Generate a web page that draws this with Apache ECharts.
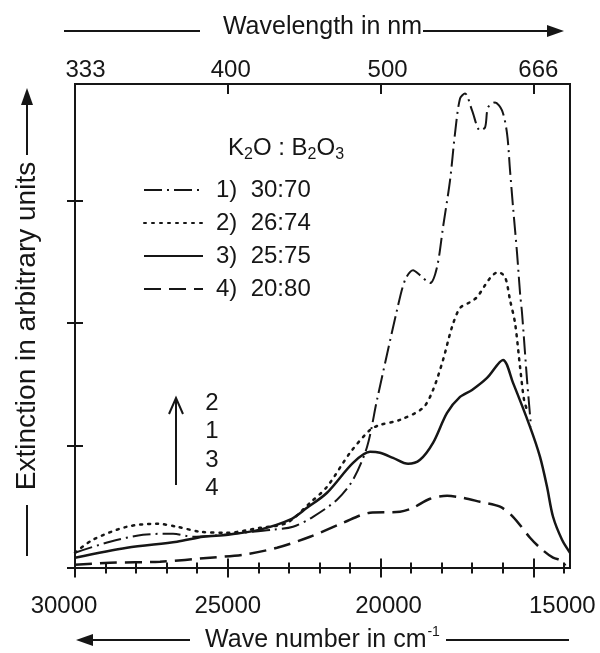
<!DOCTYPE html>
<html><head><meta charset="utf-8">
<script src="https://cdn.jsdelivr.net/npm/echarts@6/dist/echarts.min.js"></script>
<style>html,body{margin:0;padding:0;background:#fff}#c{width:600px;height:653px}</style>
</head><body><div id="c"></div>
<script>
// ---- data ----
const seriesNames = ['1)  30:70', '2)  26:74', '3)  25:75', '4)  20:80'];
const wave1 = [30000,28855,27774,26792,26138,25483,24501,23519,22865,22210,21425,20901,20443,20116,19461,19199,18937,18708,18381,18152,17955,17726,17563,17399,17236,17006,16744,16580,16482,16253,16025,15861,15763,15664,15533,15435,15370,15206,15075];
const ext1  = [0.125,0.214,0.271,0.280,0.255,0.263,0.288,0.313,0.337,0.418,0.557,0.720,0.988,1.372,2.105,2.350,2.431,2.390,2.325,2.456,2.782,3.164,3.547,3.832,3.873,3.735,3.571,3.596,3.759,3.800,3.735,3.547,3.246,2.945,2.570,2.244,2.081,1.535,1.152];
const wave2 = [30000,29411,28298,27316,26661,25909,25025,23945,23061,22308,21752,20999,20345,20017,19363,18610,18283,17955,17661,17399,17072,16842,16417,16155,15926,15763,15599,15435,15304,15206];
const ext2  = [0.125,0.231,0.337,0.361,0.337,0.296,0.288,0.328,0.369,0.532,0.663,0.940,1.127,1.168,1.209,1.307,1.453,1.698,1.967,2.122,2.170,2.211,2.366,2.415,2.374,2.187,2.000,1.641,1.372,1.290];
const wave3 = [30000,28298,26661,25810,24992,23945,22963,22407,21752,20901,20345,20017,19592,19101,18708,18283,17824,17399,17006,16515,15992,15664,15108,14781,14552,14355,14061,13800];
const ext3  = [0.084,0.165,0.214,0.255,0.271,0.313,0.394,0.491,0.614,0.858,0.948,0.940,0.899,0.850,0.883,1.021,1.266,1.396,1.453,1.551,1.698,1.511,1.152,0.907,0.663,0.418,0.231,0.125];
const wave4 = [30000,28855,27218,25581,24501,23389,22308,21228,20345,19363,18937,18381,17824,17301,16744,16090,15664,15108,14781,14355,14028,13960];
const ext4  = [0.027,0.043,0.051,0.084,0.108,0.165,0.255,0.369,0.451,0.459,0.491,0.565,0.589,0.573,0.540,0.500,0.418,0.247,0.165,0.084,0.059,0.020];
const bottomTickValues = [30000, 25000, 20000, 15000];
const topTickLabels = ['333', '400', '500', '666'];
const minorTickValues = [29000,28000,27000,26000,24000,23000,22000,21000,19000,18000,17000,16000,14000];
const majorTickValues = [30000, 25000, 20000, 15000];
const yTickValues = [0, 1, 2, 3];
const orderLabels = ['2', '1', '3', '4'];
const xMin = 13800, xMax = 30000, yMin = 0, yMax = 3.95;

// ---- styling ----
const INK = '#161616';
const FONT = '"Liberation Sans", Arial, sans-serif';
const bottomPad = [[0,22,0,0],[0,0,0,0],[0,0,0,16],[0,0,0,58]];
const topPad = [[0,0,0,21],[0,0,0,6],[0,0,0,14],[0,0,0,10]];

function zip(a, b) { return a.map((v, i) => [v, b[i]]); }

const chart = echarts.init(document.getElementById('c'), null, {renderer: 'canvas'});

function baseX(extra) {
  return Object.assign({
    type: 'value', min: xMin, max: xMax, inverse: true, gridIndex: 0,
    splitLine: {show: false}, axisLine: {show: false, onZero: false},
    axisLabel: {show: false}, axisTick: {show: false}
  }, extra);
}
function baseY(extra) {
  return Object.assign({
    type: 'value', min: yMin, max: yMax, gridIndex: 0,
    splitLine: {show: false}, axisLine: {show: false, onZero: false},
    axisLabel: {show: false}, axisTick: {show: false}
  }, extra);
}
const tickLine = {color: INK, width: 2};

const bRich = {}; bottomPad.forEach((p, i) => bRich['b' + i] = {fontSize: 24, fontFamily: FONT, color: INK, padding: p});
const tRich = {}; topPad.forEach((p, i) => tRich['t' + i] = {fontSize: 24, fontFamily: FONT, color: INK, padding: p});

const option = {
  backgroundColor: '#fff',
  animation: false,
  textStyle: {fontFamily: FONT, color: INK},
  grid: {left: 75, right: 30, top: 84, bottom: 85, show: true, borderColor: INK, borderWidth: 2,
    backgroundColor: 'transparent', containLabel: false, outerBoundsMode: 'none'},
  title: {
    text: '{n|K}{s|2}{n|O : B}{s|2}{n|O}{s|3}',
    left: 223, top: 128,
    textStyle: {fontWeight: 'normal', rich: {
      n: {fontSize: 24, fontFamily: FONT, color: INK, fontWeight: 'normal'},
      s: {fontSize: 16, fontFamily: FONT, color: INK, fontWeight: 'normal', padding: [14, 0, 0, 0]}
    }}
  },
  legend: {
    orient: 'vertical', left: 143, top: 178, itemWidth: 59, itemHeight: 14, itemGap: 9, padding: 0,
    selectedMode: false,
    data: seriesNames,
    itemStyle: {opacity: 0, borderWidth: 0},
    textStyle: {fontSize: 24, fontFamily: FONT, color: INK, lineHeight: 24, padding: [0, 0, 0, 8]}
  },
  xAxis: [
    // minor ticks crossing the bottom border (offset inward, drawn outward)
    baseX({position: 'bottom', offset: -5.5,
      axisTick: {show: true, inside: false, length: 11, customValues: minorTickValues, lineStyle: tickLine},
      axisLabel: {show: true, customValues: bottomTickValues, margin: 31.5,
        formatter: v => '{b' + bottomTickValues.indexOf(v) + '|' + v + '}', rich: bRich},
      name: 'Wave number in cm{sup|-1}', nameLocation: 'middle', nameGap: 63,
      nameTextStyle: {fontSize: 25, fontFamily: FONT, color: INK,
        rich: {sup: {fontSize: 14, fontFamily: FONT, color: INK, padding: [0, 0, 16, 1]}}}
    }),
    // major ticks crossing the bottom border
    baseX({position: 'bottom', offset: -9.5,
      axisTick: {show: true, inside: false, length: 19, customValues: majorTickValues, lineStyle: tickLine}}),
    // top axis: wavelength
    baseX({position: 'top', offset: -10,
      axisTick: {show: true, inside: false, length: 10, customValues: majorTickValues.slice(1), lineStyle: tickLine},
      axisLabel: {show: true, customValues: majorTickValues, margin: 12,
        formatter: v => { const i = majorTickValues.indexOf(v); return '{t' + i + '|' + topTickLabels[i] + '}'; }, rich: tRich},
      name: 'Wavelength in nm', nameLocation: 'middle', nameGap: 54,
      nameTextStyle: {fontSize: 25, fontFamily: FONT, color: INK}
    })
  ],
  yAxis: [
    baseY({position: 'left', offset: -8,
      axisTick: {show: true, inside: false, length: 16, customValues: yTickValues, lineStyle: tickLine},
      name: 'Extinction in arbitrary units', nameLocation: 'middle', nameRotate: 90, nameGap: 42,
      nameTextStyle: {fontSize: 28, fontFamily: FONT, color: INK}
    })
  ],
  series: [
    {name: seriesNames[0], type: 'line', data: zip(wave1, ext1), smooth: 0.3, symbol: 'none', showSymbol: false,
      lineStyle: {color: INK, width: 2, type: [18, 5, 2, 5]}, itemStyle: {color: INK}},
    {name: seriesNames[1], type: 'line', data: zip(wave2, ext2), smooth: 0.3, symbol: 'none', showSymbol: false,
      lineStyle: {color: INK, width: 2.5, type: [2, 6], cap: 'round'}, itemStyle: {color: INK}},
    {name: seriesNames[2], type: 'line', data: zip(wave3, ext3), smooth: 0.3, symbol: 'none', showSymbol: false,
      lineStyle: {color: INK, width: 2.5, type: 'solid'}, itemStyle: {color: INK}},
    {name: seriesNames[3], type: 'line', data: zip(wave4, ext4), smooth: 0.3, symbol: 'none', showSymbol: false,
      lineStyle: {color: INK, width: 2.5, type: [17, 8]}, itemStyle: {color: INK}}
  ],
  graphic: [
    // top title arrow
    {type: 'line', shape: {x1: 64, y1: 31, x2: 200, y2: 31}, style: {stroke: INK, lineWidth: 2}},
    {type: 'line', shape: {x1: 423, y1: 31, x2: 552, y2: 31}, style: {stroke: INK, lineWidth: 2}},
    {type: 'polygon', shape: {points: [[564, 31], [547, 25], [547, 37]]}, style: {fill: INK}},
    // bottom title arrow
    {type: 'polygon', shape: {points: [[76, 640], [93, 634], [93, 646]]}, style: {fill: INK}},
    {type: 'line', shape: {x1: 90, y1: 640, x2: 190, y2: 640}, style: {stroke: INK, lineWidth: 2}},
    {type: 'line', shape: {x1: 446, y1: 640, x2: 569, y2: 640}, style: {stroke: INK, lineWidth: 2}},
    // y title arrow
    {type: 'line', shape: {x1: 27, y1: 505, x2: 27, y2: 556}, style: {stroke: INK, lineWidth: 2}},
    {type: 'line', shape: {x1: 27, y1: 155, x2: 27, y2: 100}, style: {stroke: INK, lineWidth: 2}},
    {type: 'polygon', shape: {points: [[27, 88], [21, 105], [33, 105]]}, style: {fill: INK}},
    // order annotation
    {type: 'line', shape: {x1: 176, y1: 485, x2: 176, y2: 400}, style: {stroke: INK, lineWidth: 2}},
    {type: 'polyline', shape: {points: [[169, 414], [176, 398], [183, 414]]}, style: {stroke: INK, lineWidth: 2, fill: null}},
    {type: 'group', children: orderLabels.map((t, i) => ({
      type: 'text', x: 212, y: 403 + i * 28.5,
      style: {text: t, fontSize: 24, fontFamily: FONT, fill: INK, align: 'center', verticalAlign: 'middle'}
    }))}
  ]
};
chart.setOption(option);
</script>
</body></html>
